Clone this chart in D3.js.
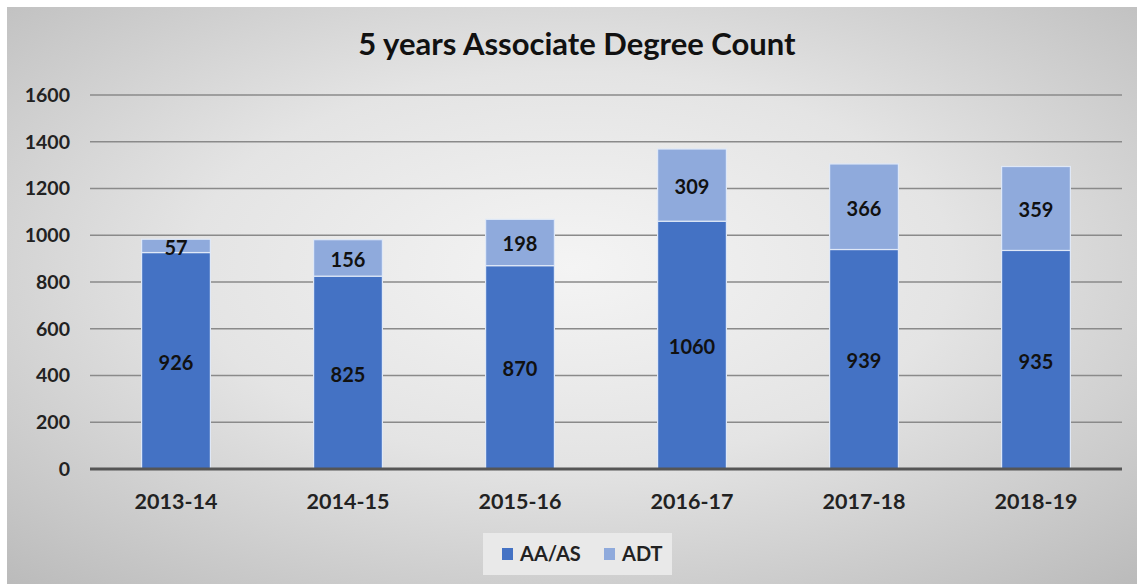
<!DOCTYPE html>
<html>
<head>
<meta charset="utf-8">
<script src="https://cdn.jsdelivr.net/npm/d3@7"></script>
<style>
  body { margin: 0; background: #fff; }
  svg { display: block; }
</style>
</head>
<body>
<svg id="chart"></svg>
<script>
// data
const years = ["2013-14", "2014-15", "2015-16", "2016-17", "2017-18", "2018-19"];
const aaas = [926, 825, 870, 1060, 939, 935];
const adt = [57, 156, 198, 309, 366, 359];
const seriesNames = ["AA/AS", "ADT"];
const seriesColors = ["#4472C4", "#8FAADC"];
const yTicks = [0, 200, 400, 600, 800, 1000, 1200, 1400, 1600];

const W = 1137, H = 584;
const font = "Lato, 'Open Sans', 'Liberation Sans', sans-serif";

const svg = d3.select("#chart").attr("width", W).attr("height", H);

// background gradient (light in middle, grey at edges)
const defs = svg.append("defs");
const grad = defs.append("radialGradient")
  .attr("id", "bg")
  .attr("cx", "50%").attr("cy", "45%").attr("r", "75%");
grad.append("stop").attr("offset", "0%").attr("stop-color", "#f4f4f4");
grad.append("stop").attr("offset", "45%").attr("stop-color", "#e4e4e4");
grad.append("stop").attr("offset", "100%").attr("stop-color", "#bababa");

svg.append("rect")
  .attr("x", 7).attr("y", 7)
  .attr("width", W - 7).attr("height", H - 7)
  .attr("fill", "url(#bg)");

const margin = {left: 90, right: 15};

const x = d3.scaleBand()
  .domain(years)
  .range([margin.left, W - margin.right])
  .paddingInner(0.6)
  .paddingOuter(0.3);

const y = d3.scaleLinear()
  .domain([0, 1600])
  .range([469, 95]);

// gridlines
svg.append("g")
  .selectAll("line")
  .data(yTicks.filter(d => d > 0))
  .enter().append("line")
  .attr("x1", margin.left).attr("x2", W - margin.right)
  .attr("y1", d => y(d)).attr("y2", d => y(d))
  .attr("stroke", "#8a8a8a")
  .attr("stroke-width", 1.5);

// y axis labels
const yAxis = d3.axisLeft(y).tickValues(yTicks).tickFormat(d3.format("d")).tickSize(0).tickPadding(0);
svg.append("g")
  .attr("transform", `translate(${margin.left - 20},0)`)
  .call(yAxis)
  .call(g => g.select(".domain").remove())
  .selectAll("text")
  .attr("font-family", font)
  .attr("font-size", "19.5px")
  .attr("font-weight", "bold")
  .attr("fill", "#222");

// stacked data
const rows = years.map((yr, i) => ({year: yr, "AA/AS": aaas[i], "ADT": adt[i]}));
const stack = d3.stack().keys(seriesNames)(rows);

const layers = svg.append("g")
  .selectAll("g")
  .data(stack)
  .enter().append("g")
  .attr("fill", (d, i) => seriesColors[i]);

layers.selectAll("rect")
  .data(d => d)
  .enter().append("rect")
  .attr("x", d => x(d.data.year))
  .attr("width", x.bandwidth())
  .attr("y", d => y(d[1]))
  .attr("height", d => y(d[0]) - y(d[1]))
  .attr("stroke", "#dfe8f7")
  .attr("stroke-width", 1.2);

// value labels
layers.selectAll("text")
  .data(d => d.map(v => ({v, key: d.key})))
  .enter().append("text")
  .attr("x", d => x(d.v.data.year) + x.bandwidth() / 2)
  .attr("y", d => y((d.v[0] + d.v[1]) / 2))
  .attr("dy", "0.45em")
  .attr("text-anchor", "middle")
  .attr("font-family", font)
  .attr("font-size", "20px")
  .attr("font-weight", "bold")
  .attr("fill", "#111")
  .text(d => d.v.data[d.key]);

// x axis base line
svg.append("line")
  .attr("x1", margin.left).attr("x2", W - margin.right)
  .attr("y1", y(0)).attr("y2", y(0))
  .attr("stroke", "#555")
  .attr("stroke-width", 3);

// x axis labels
const xAxis = d3.axisBottom(x).tickSize(0).tickPadding(0);
svg.append("g")
  .attr("transform", `translate(0,${y(0) + 40})`)
  .call(xAxis)
  .call(g => g.select(".domain").remove())
  .selectAll("text")
  .attr("dy", 0)
  .attr("font-family", font)
  .attr("font-size", "21.5px")
  .attr("font-weight", "bold")
  .attr("fill", "#222");

// title
svg.append("text")
  .attr("x", 577).attr("y", 55)
  .attr("text-anchor", "middle")
  .attr("font-family", font)
  .attr("font-size", "31px")
  .attr("font-weight", "bold")
  .attr("fill", "#111")
  .text("5 years Associate Degree Count");

// legend
const legend = svg.append("g");
legend.append("rect")
  .attr("x", 483).attr("y", 533)
  .attr("width", 189).attr("height", 42)
  .attr("fill", "#e9e9e9");
const legendX = [502, 604];
seriesNames.forEach((name, i) => {
  legend.append("rect")
    .attr("x", legendX[i]).attr("y", 548)
    .attr("width", 11).attr("height", 12)
    .attr("fill", seriesColors[i]);
  legend.append("text")
    .attr("x", legendX[i] + 18).attr("y", 561)
    .attr("font-family", font)
    .attr("font-size", "20px")
    .attr("font-weight", "bold")
    .attr("fill", "#222")
    .text(name);
});
</script>
</body>
</html>
